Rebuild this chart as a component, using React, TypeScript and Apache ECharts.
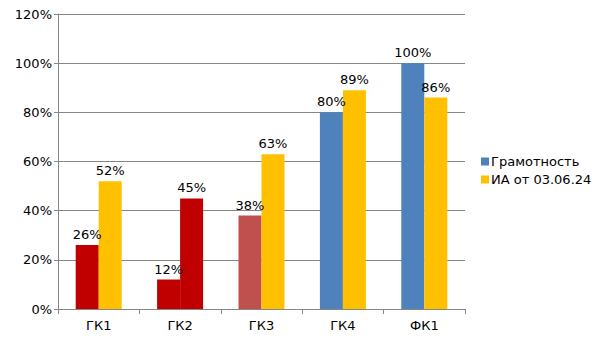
import React, { useEffect, useRef } from "react";
import * as echarts from "echarts";

const categories = ["ГК1", "ГК2", "ГК3", "ГК4", "ФК1"];
const literacy = [26, 12, 38, 80, 100];
const literacyColors = ["#C00000", "#C00000", "#C0504D", "#4F81BD", "#4F81BD"];
const ia = [52, 45, 63, 89, 86];
const iaColors = ["#FFC000", "#C00000", "#FFC000", "#FFC000", "#FFC000"];
const seriesNames = ["Грамотность", "ИА от 03.06.24"];

export default function App() {
  const ref = useRef<HTMLDivElement>(null);
  useEffect(() => {
    const chart = echarts.init(ref.current!, null, { renderer: "svg" });
    const font = "DejaVu Sans";
    chart.setOption({
      animation: false,
      textStyle: { fontFamily: font },
      grid: { left: 58, right: 140, top: 14, bottom: 31, containLabel: false },
      legend: {
        orient: "vertical",
        left: 476,
        top: 150,
        itemWidth: 8,
        itemHeight: 8,
        itemGap: 5,
        icon: "rect",
        textStyle: { fontFamily: font, fontSize: 13, color: "#000", padding: [0, 0, 0, -3] },
        data: [
          { name: seriesNames[0], itemStyle: { color: "#4F81BD" } },
          { name: seriesNames[1], itemStyle: { color: "#FFC000" } },
        ],
      },
      xAxis: {
        type: "category",
        data: categories,
        axisLine: { lineStyle: { color: "#868686" } },
        axisTick: { show: true, length: 5, lineStyle: { color: "#868686" } },
        axisLabel: { color: "#000", fontSize: 13, fontFamily: font, margin: 10 },
      },
      yAxis: {
        type: "value",
        min: 0,
        max: 120,
        interval: 20,
        axisLine: { show: true, lineStyle: { color: "#868686" } },
        axisTick: { show: true, length: 4, lineStyle: { color: "#868686" } },
        axisLabel: { color: "#000", fontSize: 13, fontFamily: font, formatter: "{value}%", margin: 6 },
        splitLine: { lineStyle: { color: "#868686" } },
      },
      series: [
        {
          name: seriesNames[0],
          type: "bar",
          barWidth: 23,
          barGap: "0%",
          itemStyle: { color: "#4F81BD" },
          data: literacy.map((v, i) => ({ value: v, itemStyle: { color: literacyColors[i] } })),
          label: { show: true, position: "top", formatter: "{c}%", color: "#000", fontSize: 13, fontFamily: font, distance: 4 },
        },
        {
          name: seriesNames[1],
          type: "bar",
          barWidth: 23,
          barGap: "0%",
          itemStyle: { color: "#FFC000" },
          data: ia.map((v, i) => ({ value: v, itemStyle: { color: iaColors[i] } })),
          label: { show: true, position: "top", formatter: "{c}%", color: "#000", fontSize: 13, fontFamily: font, distance: 4 },
        },
      ],
    });
    return () => chart.dispose();
  }, []);
  return <div ref={ref} style={{ width: 605, height: 340, position: "absolute", left: 0, top: 0 }} />;
}
